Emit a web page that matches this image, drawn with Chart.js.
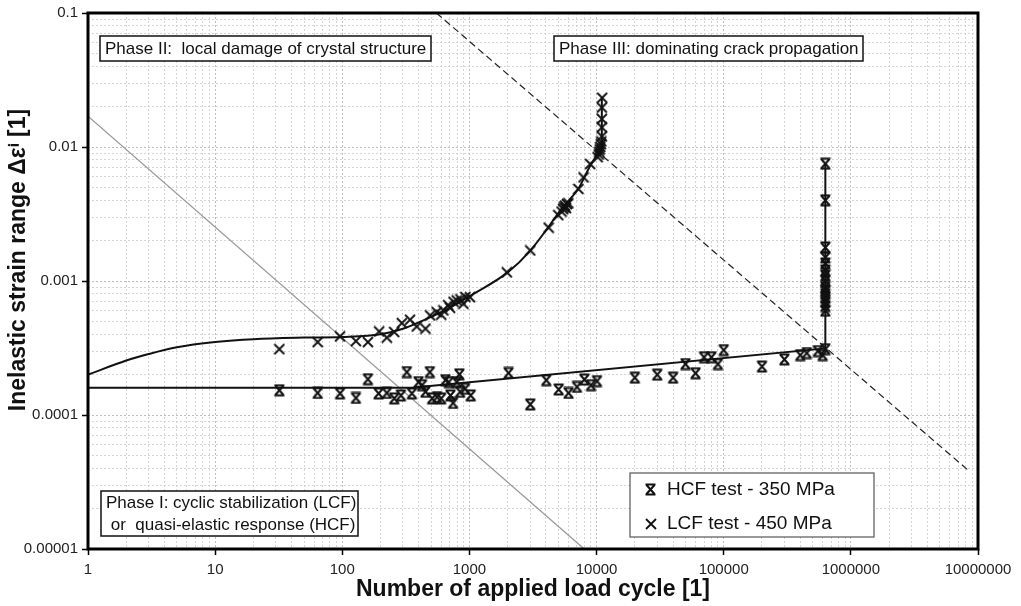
<!DOCTYPE html>
<html>
<head>
<meta charset="utf-8">
<script src="https://cdn.jsdelivr.net/npm/chart.js@4.4.1/dist/chart.umd.min.js"></script>
<style>
    html, body { margin: 0; padding: 0; background: #fff; }
</style>
</head>
<body>
<canvas id="graphique" width="1021" height="606"></canvas>
<script>
/*
 * Déformation inélastique en fonction du nombre de cycles (log-log).
 * Valeurs.
 */

// Essai LCF - 450 MPa (croix)
const CYCLES_LCF = [32, 64, 96, 128, 159, 195, 224, 256, 294, 341, 385, 451, 491, 553, 600,
    624, 680, 704, 750, 795, 850, 897, 930, 1011, 1970, 3010, 4200, 5000, 5300, 5450, 5550,
    5650, 5750, 5850, 6000, 7200, 7900, 8900, 10200, 10400, 10500, 10600, 10700, 10800,
    10900, 11000, 11000, 11000, 11000, 11070];
const DEFORMATION_LCF = [3.1e-4, 3.5e-4, 3.86e-4, 3.56e-4, 3.5e-4, 4.2e-4, 3.78e-4, 4.16e-4,
    4.85e-4, 5.14e-4, 4.58e-4, 4.41e-4, 5.53e-4, 5.86e-4, 5.6e-4, 6.03e-4, 6.6e-4, 6.31e-4,
    7.0e-4, 7.16e-4, 7.3e-4, 6.76e-4, 7.6e-4, 7.57e-4, 1.16e-3, 1.69e-3, 2.5e-3, 3.1e-3,
    3.3e-3, 3.45e-3, 3.55e-3, 3.65e-3, 3.5e-3, 3.75e-3, 3.8e-3, 4.86e-3, 5.93e-3, 7.46e-3,
    8.4e-3, 8.8e-3, 9.2e-3, 9.6e-3, 1.0e-2, 1.05e-2, 1.1e-2, 1.2e-2, 1.4e-2, 1.62e-2,
    1.97e-2, 2.33e-2];

// Essai HCF - 350 MPa (sabliers)
const CYCLES_HCF = [32, 64, 96, 128, 159, 193, 224, 256, 289, 322, 353, 398, 424, 451, 488,
    509, 557, 599, 648, 688, 709, 744, 795, 834, 845, 925, 1024, 2030, 3010, 4020, 5030,
    6020, 7010, 8010, 9040, 10070, 20000, 30000, 40000, 50000, 60000, 70000, 80000, 90000,
    100000, 200000, 300000, 400000, 450000, 550000, 600000, 630000,
    630000, 630000, 630000, 630000, 630000, 630000, 630000, 630000, 630000, 630000,
    630000, 630000, 630000, 630000, 630000];
const DEFORMATION_HCF = [1.53e-4, 1.46e-4, 1.45e-4, 1.34e-4, 1.85e-4, 1.45e-4, 1.46e-4,
    1.33e-4, 1.40e-4, 2.09e-4, 1.45e-4, 1.76e-4, 1.67e-4, 1.49e-4, 2.09e-4, 1.33e-4,
    1.36e-4, 1.33e-4, 1.82e-4, 1.76e-4, 1.40e-4, 1.23e-4, 1.76e-4, 2.01e-4, 1.49e-4,
    1.57e-4, 1.40e-4, 2.06e-4, 1.20e-4, 1.82e-4, 1.55e-4, 1.46e-4, 1.62e-4, 1.84e-4,
    1.67e-4, 1.79e-4, 1.9e-4, 2.0e-4, 1.9e-4, 2.4e-4, 2.05e-4, 2.7e-4, 2.7e-4, 2.4e-4,
    3.05e-4, 2.3e-4, 2.6e-4, 2.8e-4, 2.9e-4, 3.0e-4, 2.8e-4, 3.1e-4,
    6.0e-4, 6.5e-4, 7.0e-4, 7.5e-4, 8.0e-4, 8.5e-4, 9.0e-4, 1.0e-3, 1.1e-3, 1.2e-3,
    1.35e-3, 1.5e-3, 1.78e-3, 4.0e-3, 7.5e-3];

// Courbe d'ajustement LCF
const CYCLES_COURBE_LCF = [1, 2, 3, 5, 10, 20, 50, 100, 200, 300, 500, 700, 1000, 2000, 3000,
    5500, 7200, 8900, 11000];
const DEFORMATION_COURBE_LCF = [2.0e-4, 2.55e-4, 2.85e-4, 3.2e-4, 3.5e-4, 3.68e-4, 3.78e-4,
    3.82e-4, 4.0e-4, 4.4e-4, 5.4e-4, 6.3e-4, 7.7e-4, 1.16e-3, 1.68e-3, 3.6e-3, 4.9e-3,
    7.2e-3, 9.8e-3];
const CYCLES_VERTICALE_LCF = [11000, 11000];
const DEFORMATION_VERTICALE_LCF = [9.8e-3, 2.33e-2];

// Droite d'ajustement HCF
const CYCLES_DROITE_HCF = [1, 350, 630000, 630000];
const DEFORMATION_DROITE_HCF = [1.6e-4, 1.6e-4, 3.14e-4, 7.5e-3];

// Limites de phases
const CYCLES_LIMITE_GRISE = [1, 8000];
const DEFORMATION_LIMITE_GRISE = [0.017, 0.00001];
const CYCLES_LIMITE_TIRETS = [550, 8.7e6];
const DEFORMATION_LIMITE_TIRETS = [0.1, 3.75e-5];

// Graduations
const LIBELLES_X = ['1', '10', '100', '1000', '10000', '100000', '1000000', '10000000'];
const LIBELLES_Y = ['0.00001', '0.0001', '0.001', '0.01', '0.1'];

const POLICE = 'Arial, "Liberation Sans", sans-serif';

/**
 * Assemble deux tableaux en points {x, y}.
 */
function points(xs, ys) {
    return xs.map((x, i) => ({ x: x, y: ys[i] }));
}

/**
 * Crée les graduations 1..9 x 10^n entre deux exposants.
 */
function graduations(expMin, expMax) {
    const ticks = [];
    for (let e = expMin; e < expMax; e++) {
        for (let k = 1; k <= 9; k++) {
            ticks.push({ value: Number((k * Math.pow(10, e)).toPrecision(12)), major: k === 1 });
        }
    }
    ticks.push({ value: Math.pow(10, expMax), major: true });
    return ticks;
}

/**
 * Marqueur "sablier" (HCF) dessiné dans un petit canvas.
 */
function marqueurHCF() {
    const c = document.createElement('canvas');
    c.width = 13; c.height = 13;
    const g = c.getContext('2d');
    g.strokeStyle = '#111';
    g.lineWidth = 2;
    g.beginPath();
    g.moveTo(2.5, 2); g.lineTo(10.5, 11);
    g.moveTo(10.5, 2); g.lineTo(2.5, 11);
    g.moveTo(1.5, 1.5); g.lineTo(11.5, 1.5);
    g.moveTo(1.5, 11.5); g.lineTo(11.5, 11.5);
    g.stroke();
    return c;
}

/**
 * Marqueur croix (LCF).
 */
function marqueurLCF() {
    const c = document.createElement('canvas');
    c.width = 12; c.height = 12;
    const g = c.getContext('2d');
    g.strokeStyle = '#111';
    g.lineWidth = 1.8;
    g.beginPath();
    g.moveTo(1, 1); g.lineTo(11, 11);
    g.moveTo(11, 1); g.lineTo(1, 11);
    g.stroke();
    return c;
}

const SYMBOLE_HCF = marqueurHCF();
const SYMBOLE_LCF = marqueurLCF();

/**
 * Dessine un cadre blanc avec du texte.
 */
function cadreTexte(ctx, x, y, w, h, lignes, taille) {
    ctx.save();
    ctx.fillStyle = '#fff';
    ctx.fillRect(x, y, w, h);
    ctx.strokeStyle = '#111';
    ctx.lineWidth = 1.5;
    ctx.strokeRect(x, y, w, h);
    ctx.fillStyle = '#111';
    ctx.font = taille + 'px ' + POLICE;
    ctx.textBaseline = 'middle';
    const pas = h / lignes.length;
    lignes.forEach((t, i) => ctx.fillText(t, x + 5, y + pas * (i + 0.5) + 1));
    ctx.restore();
}

// Cadre, annotations, légende et titres des axes
const decor = {
    id: 'decor',
    afterDraw(chart) {
        const ctx = chart.ctx;
        const a = chart.chartArea;

        ctx.save();
        ctx.strokeStyle = '#000';
        ctx.lineWidth = 3;
        ctx.strokeRect(a.left, a.top, a.right - a.left, a.bottom - a.top);
        ctx.restore();

        cadreTexte(ctx, 100, 36, 331, 25, ['Phase II:  local damage of crystal structure'], 17);
        cadreTexte(ctx, 554, 36, 309, 25, ['Phase III: dominating crack propagation'], 17);
        cadreTexte(ctx, 101, 491, 257, 45,
            ['Phase I: cyclic stabilization (LCF)', ' or  quasi-elastic response (HCF)'], 17);

        // Légende
        ctx.save();
        ctx.fillStyle = '#fff';
        ctx.fillRect(630, 473, 244, 64);
        ctx.strokeStyle = '#555';
        ctx.lineWidth = 1.2;
        ctx.strokeRect(630, 473, 244, 64);
        ctx.drawImage(SYMBOLE_HCF, 644, 483);
        ctx.drawImage(SYMBOLE_LCF, 645, 518);
        ctx.fillStyle = '#111';
        ctx.font = '19px ' + POLICE;
        ctx.textBaseline = 'middle';
        ctx.fillText('HCF test - 350 MPa', 667, 490);
        ctx.fillText('LCF test - 450 MPa', 667, 524);
        ctx.restore();

        // Titres des axes
        ctx.save();
        ctx.fillStyle = '#111';
        ctx.font = 'bold 23px ' + POLICE;
        ctx.textAlign = 'center';
        ctx.textBaseline = 'middle';
        ctx.fillText('Number of applied load cycle [1]', (a.left + a.right) / 2, 590);
        ctx.translate(19, 260);
        ctx.rotate(-Math.PI / 2);
        ctx.fillText('Inelastic strain range \u0394\u03b5\u2071 [1]', 0, 0);
        ctx.restore();
    }
};

/**
 * Options communes aux deux axes logarithmiques.
 */
function optionsAxe(libelles, expMin, expMax, horizontal) {
    return {
        type: 'logarithmic',
        min: Math.pow(10, expMin),
        max: Math.pow(10, expMax),
        afterBuildTicks: (axe) => { axe.ticks = graduations(expMin, expMax); },
        afterFit: (axe) => {
            if (horizontal) { axe.height = 57; } else { axe.width = 88; }
        },
        border: { display: false, dash: [2, 2] },
        grid: {
            color: (c) => (c.tick && c.tick.major ? '#bdbdbd' : '#d4d4d4'),
            lineWidth: 1,
            tickLength: 6,
            tickColor: (c) => (c.tick && c.tick.major ? '#000' : 'rgba(0,0,0,0)'),
            tickWidth: 1.5
        },
        ticks: {
            autoSkip: false,
            maxRotation: 0,
            minRotation: 0,
            padding: horizontal ? 6 : 4,
            color: '#222',
            font: { family: POLICE, size: 15 },
            callback: (v) => {
                const e = Math.log10(v);
                const r = Math.round(e);
                return Math.abs(e - r) < 1e-6 ? libelles[r - expMin] : '';
            }
        }
    };
}

/**
 * Construit le graphique complet.
 */
function creerGraphique() {
    const canvas = document.getElementById('graphique');
    const ligne = { showLine: true, pointRadius: 0, fill: false };

    new Chart(canvas, {
        type: 'scatter',
        data: {
            datasets: [
                {
                    data: points(CYCLES_HCF, DEFORMATION_HCF),
                    pointStyle: SYMBOLE_HCF,
                    pointRadius: 6,
                    showLine: false
                },
                {
                    data: points(CYCLES_LCF, DEFORMATION_LCF),
                    pointStyle: SYMBOLE_LCF,
                    pointRadius: 6,
                    showLine: false
                },
                Object.assign({
                    data: points(CYCLES_COURBE_LCF, DEFORMATION_COURBE_LCF),
                    borderColor: '#111',
                    borderWidth: 2,
                    cubicInterpolationMode: 'monotone'
                }, ligne),
                Object.assign({
                    data: points(CYCLES_VERTICALE_LCF, DEFORMATION_VERTICALE_LCF),
                    borderColor: '#111',
                    borderWidth: 2
                }, ligne),
                Object.assign({
                    data: points(CYCLES_DROITE_HCF, DEFORMATION_DROITE_HCF),
                    borderColor: '#111',
                    borderWidth: 2
                }, ligne),
                Object.assign({
                    data: points(CYCLES_LIMITE_TIRETS, DEFORMATION_LIMITE_TIRETS),
                    borderColor: '#222',
                    borderWidth: 1.2,
                    borderDash: [7, 4]
                }, ligne),
                Object.assign({
                    data: points(CYCLES_LIMITE_GRISE, DEFORMATION_LIMITE_GRISE),
                    borderColor: '#9a9a9a',
                    borderWidth: 1.3
                }, ligne)
            ]
        },
        options: {
            responsive: false,
            animation: false,
            devicePixelRatio: 1,
            layout: { padding: { top: 12, right: 43, left: 0, bottom: 0 } },
            plugins: { legend: { display: false }, tooltip: { enabled: false } },
            scales: {
                x: optionsAxe(LIBELLES_X, 0, 7, true),
                y: optionsAxe(LIBELLES_Y, -5, -1, false)
            }
        },
        plugins: [decor]
    });
}

creerGraphique();
</script>
</body>
</html>
